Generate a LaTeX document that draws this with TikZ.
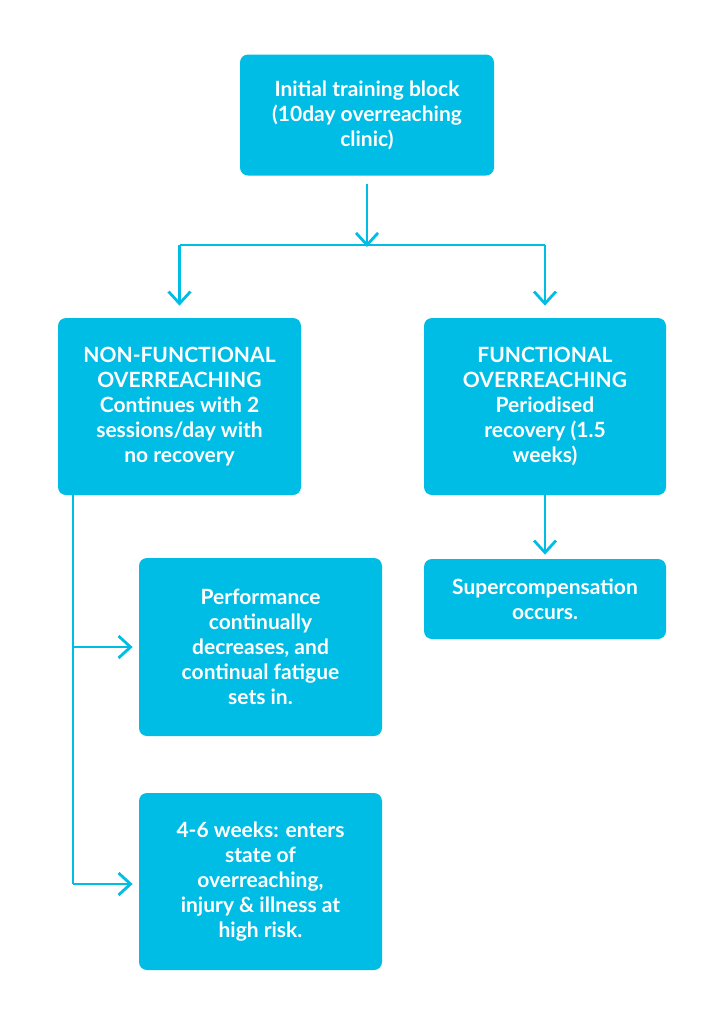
\documentclass[tikz,border=0pt]{standalone}
\usepackage{fontspec}
\setmainfont{Lato}
\usetikzlibrary{arrows.meta}
\definecolor{boxcyan}{HTML}{00BDE5}
\tikzset{
  box/.style={fill=boxcyan, rounded corners=4pt, text=white, font=\bfseries\fontsize{10.5}{12.5}\selectfont,
    align=center, inner sep=3pt},
  flow/.style={draw=boxcyan, line width=1.4pt, -{Straight Barb[length=6pt,width=11pt]}},
  link/.style={draw=boxcyan, line width=1.4pt}
}
\begin{document}
\begin{tikzpicture}[x=0.5pt,y=-0.5pt]
\useasboundingbox (0,0) rectangle (719,1024);

\node[box, minimum width=127pt, minimum height=60.5pt] (init) at (367,115) {Initial training block\\(10day overreaching\\clinic)};
\node[box, minimum width=121.5pt, minimum height=88.5pt] (nfo) at (179.5,406.5) {NON-FUNCTIONAL\\OVERREACHING\\Continues with 2\\sessions/day with\\no recovery};
\node[box, minimum width=121pt, minimum height=88.5pt] (fo) at (545,406.5) {FUNCTIONAL\\OVERREACHING\\Periodised\\recovery (1.5\\weeks)};
\node[box, minimum width=121pt, minimum height=40pt] (super) at (545,599) {Supercompensation\\occurs.};
\node[box, minimum width=121.5pt, minimum height=89pt] (perf) at (260.5,647) {Performance\\continually\\decreases, and\\continual fatigue\\sets in.};
\node[box, minimum width=121.5pt, minimum height=88.5pt] (risk) at (260.5,881.5) {4-6 weeks: enters\\state of\\overreaching,\\injury \& illness at\\high risk.};

\coordinate (split) at (367,245);
\coordinate (splitl) at (179.5,245);
\coordinate (splitr) at (545,245);
\coordinate (trunk) at (73,495);
\coordinate (bperf) at (73,647);
\coordinate (brisk) at (73,884);

\draw[flow] ([yshift=-4pt]init.south) -- ([yshift=-1pt]split);
\draw[link] (splitl) -- (splitr);
\draw[flow] (splitl) -- ([yshift=6pt]nfo.north);
\draw[flow] (splitr) -- ([yshift=6pt]fo.north);
\draw[flow] (fo.south) -- ([yshift=2pt]super.north);
\draw[link] (trunk) -- (brisk);
\draw[flow] (bperf) -- ([xshift=-3pt]perf.west);
\draw[flow] (brisk) -- ([xshift=-3pt]perf.west |- brisk);

\end{tikzpicture}
\end{document}
